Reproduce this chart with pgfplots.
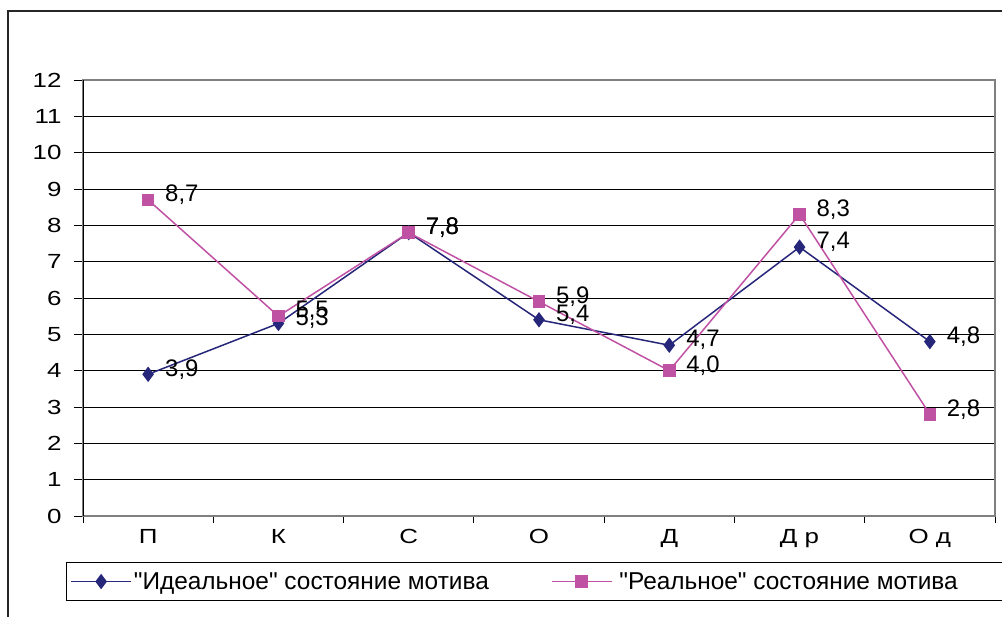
\documentclass[border=0pt]{standalone}
\usepackage{fontspec}
\setmainfont{Liberation Sans}[Ligatures=TeXOff]
\newfontfamily\tickfamily{Liberation Sans}[FakeStretch=1.27]
\usepackage{pgfplots}
\pgfplotsset{compat=1.18}

\definecolor{ideal}{RGB}{38,38,122}
\definecolor{real}{RGB}{192,82,164}
\definecolor{frame}{RGB}{128,128,128}

\newcommand{\tickfont}{\tickfamily\fontsize{20.5}{24}\selectfont}
\newcommand{\labelfont}{\fontsize{24}{28}\selectfont}
\newcommand{\legendfont}{\fontsize{24.5}{28}\selectfont}

\begin{document}
\begin{tikzpicture}
\useasboundingbox (0,0) rectangle (1002bp,617bp);

% outer chart frame (right and bottom edges fall outside the picture)
\draw[line width=1.4bp, black!85] (8bp,-20bp) -- (8bp,606bp) -- (1030bp,606bp);

\begin{axis}[
    at={(83bp,101bp)}, anchor=south west,
    scale only axis,
    width=912bp, height=436bp,
    xmin=-0.5, xmax=6.5,
    ymin=0, ymax=12,
    ytick={0,1,...,12},
    xtick={0,1,...,6},
    xticklabels={П, К, С, О, Д, Д р, О д},
    minor xtick={-0.5,0.5,...,6.5},
    major x tick style={draw=none},
    minor tick length=7bp,
    major tick length=9bp,
    tick align=outside,
    tick pos=left,
    tick style={black, line width=0.8bp},
    ymajorgrids,
    grid style={black, line width=0.8bp},
    axis line style={frame, line width=1.6bp},
    /pgf/number format/assume math mode=true,
    yticklabel style={font=\tickfont, xshift=-9bp},
    xticklabel style={font=\tickfont, yshift=-1bp},
    nodes near coords,
    nodes near coords align={center},
    every node near coord/.append style={font=\labelfont, black,
        anchor=west, xshift=13bp, yshift=5bp,
        /pgf/number format/.cd, fixed, fixed zerofill, precision=1, use comma},
    legend columns=2,
    legend style={at={(axis description cs:0,0)}, anchor=north west,
        xshift=-17bp, yshift=-46bp, draw=black, line width=0.8bp,
        font=\legendfont, inner xsep=4bp, inner ysep=8bp},
    legend cell align=left,
    legend image code/.code={
        \draw[mark repeat=2, mark phase=2, #1]
            plot coordinates {(0bp,0bp) (30bp,0bp) (60bp,0bp)};
    },
]

\draw[black, line width=1bp] (axis cs:-0.5,0) -- (axis cs:-0.5,12);

\addplot[ideal, line width=1.5bp, mark=diamond*, mark size=6.5bp,
    mark options={fill=ideal, draw=ideal}] coordinates {
    (0,3.9) (1,5.3) (2,7.8) (3,5.4) (4,4.7) (5,7.4) (6,4.8)
};
\addlegendentry{\makebox[415bp][l]{"Идеальное" состояние мотива}}

\addplot[real, line width=1.5bp, mark=square*, mark size=5.5bp,
    mark options={fill=real, draw=real}] coordinates {
    (0,8.7) (1,5.5) (2,7.8) (3,5.9) (4,4.0) (5,8.3) (6,2.8)
};
\addlegendentry{\hspace{5bp}\makebox[400bp][l]{"Реальное" состояние мотива}}

\end{axis}
\end{tikzpicture}
\end{document}
